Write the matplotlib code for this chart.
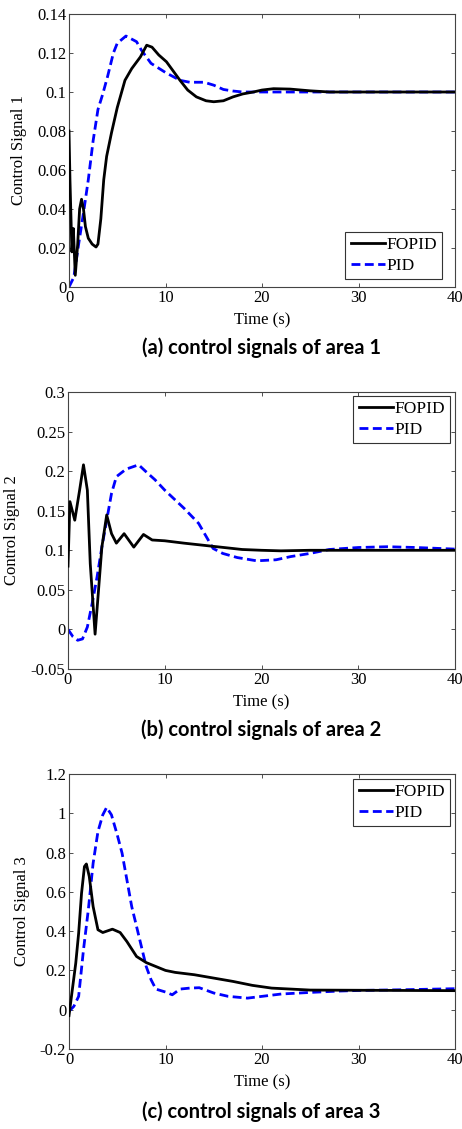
import matplotlib
matplotlib.use("Agg")
import matplotlib.pyplot as plt

# ---- area 1 ----
t1_fopid = [0, 0.1, 0.3, 0.45, 0.65, 0.9, 1.1, 1.3, 1.5, 1.7, 2.0, 2.4, 2.8, 3.0, 3.3, 3.6,
            3.9, 4.4, 5.0, 5.8, 6.5, 7.4, 8.05, 8.6, 9.3, 10.1, 11.5, 12.3, 13.2, 14.2, 15.0,
            16.0, 17.0, 18.0, 19.1, 20.0, 21.2, 22.9, 25.0, 27.0, 40.0]
u1_fopid = [0.080, 0.055, 0.018, 0.030, 0.006, 0.022, 0.040, 0.045, 0.040, 0.031, 0.025, 0.022,
            0.0205, 0.022, 0.035, 0.055, 0.067, 0.079, 0.092, 0.106, 0.112, 0.118, 0.124, 0.123,
            0.119, 0.1155, 0.106, 0.101, 0.0975, 0.0955, 0.095, 0.0955, 0.0975, 0.099, 0.100,
            0.101, 0.1017, 0.1015, 0.1006, 0.100, 0.100]
t1_pid = [0, 0.5, 1.0, 1.5, 2.0, 2.5, 3.0, 3.5, 4.0, 4.6, 5.0, 5.9, 7.0, 7.5, 8.5, 10.0, 11.5,
          12.5, 14.0, 15.0, 16.0, 17.0, 18.0, 40.0]
u1_pid = [0.0, 0.005, 0.022, 0.038, 0.055, 0.075, 0.091, 0.099, 0.108, 0.120, 0.125, 0.1287,
          0.1258, 0.1215, 0.1147, 0.110, 0.106, 0.105, 0.105, 0.1035, 0.1013, 0.1005, 0.100, 0.100]

# ---- area 2 ----
t2_fopid = [0, 0.2, 0.7, 1.2, 1.6, 2.0, 2.3, 2.8, 3.1, 3.5, 4.0, 4.5, 5.0, 5.8, 6.8, 7.8, 8.7,
            10.0, 12.0, 15.0, 18.0, 20.0, 22.0, 25.0, 40.0]
u2_fopid = [0.080, 0.1615, 0.138, 0.176, 0.208, 0.176, 0.083, -0.006, 0.041, 0.104, 0.1446,
            0.121, 0.109, 0.121, 0.104, 0.120, 0.113, 0.112, 0.109, 0.105, 0.101, 0.100, 0.0993,
            0.100, 0.100]
t2_pid = [0, 0.5, 1.0, 1.5, 2.0, 2.5, 3.0, 3.5, 4.0, 4.5, 5.0, 6.0, 7.3, 8.0, 9.0, 10.0, 12.0,
          13.5, 15.0, 16.0, 17.5, 19.5, 21.5, 23.0, 25.0, 27.0, 30.0, 33.0, 36.0, 40.0]
u2_pid = [0.0, -0.009, -0.0137, -0.012, 0.003, 0.033, 0.066, 0.104, 0.138, 0.172, 0.193, 0.2025,
          0.208, 0.200, 0.189, 0.176, 0.153, 0.134, 0.1023, 0.096, 0.0908, 0.0867, 0.088, 0.092,
          0.096, 0.101, 0.1035, 0.1045, 0.1035, 0.1015]

# ---- area 3 ----
t3_fopid = [0, 0.3, 0.7, 1.0, 1.3, 1.6, 1.8, 2.1, 2.5, 3.0, 3.5, 4.5, 5.3, 6.0, 7.0, 8.0, 9.0,
            10.0, 11.0, 13.0, 15.0, 17.0, 19.0, 21.0, 23.0, 25.0, 40.0]
u3_fopid = [-0.03, 0.085, 0.237, 0.39, 0.593, 0.729, 0.742, 0.678, 0.525, 0.407, 0.393, 0.41,
            0.393, 0.347, 0.271, 0.24, 0.22, 0.20, 0.19, 0.178, 0.161, 0.144, 0.124, 0.11, 0.105,
            0.10, 0.097]
t3_pid = [0, 0.5, 1.0, 1.5, 2.0, 2.5, 3.0, 3.5, 3.9, 4.4, 5.0, 5.5, 6.0, 6.5, 7.0, 7.5, 8.0, 8.5,
          9.0, 10.0, 10.7, 11.5, 12.5, 13.5, 15.0, 16.5, 18.5, 20.0, 22.0, 25.0, 28.0, 30.0, 35.0,
          40.0]
u3_pid = [-0.008, 0.017, 0.068, 0.305, 0.508, 0.746, 0.907, 0.992, 1.03, 0.992, 0.89, 0.797,
          0.661, 0.525, 0.424, 0.322, 0.22, 0.153, 0.105, 0.09, 0.076, 0.105, 0.11, 0.112, 0.085,
          0.068, 0.059, 0.068, 0.08, 0.088, 0.095, 0.098, 0.102, 0.107]

x_ticks = [0, 10, 20, 30, 40]
y_ticks_1 = [0, 0.02, 0.04, 0.06, 0.08, 0.1, 0.12, 0.14]
y_ticks_2 = [-0.05, 0, 0.05, 0.1, 0.15, 0.2, 0.25, 0.3]
y_ticks_3 = [-0.2, 0, 0.2, 0.4, 0.6, 0.8, 1, 1.2]

series_labels = ["FOPID", "PID"]
y_labels = ["Control Signal 1", "Control Signal 2", "Control Signal 3"]
captions = ["(a) control signals of area 1", "(b) control signals of area 2",
            "(c) control signals of area 3"]

W, H = 462, 1129
fig = plt.figure(figsize=(W / 100, H / 100), dpi=100)

serif = "Liberation Serif"
fs = 12


def px_axes(left, top, right, bottom):
    return fig.add_axes([left / W, 1 - bottom / H, (right - left) / W, (bottom - top) / H])


# box: left, top, right, bottom (px); leg: legend corner (px); ylab_x: right edge of y label
panels = [
    dict(box=(69, 14, 455, 287), fopid=(t1_fopid, u1_fopid), pid=(t1_pid, u1_pid),
         yticks=y_ticks_1, loc="lower right", leg=(442, 279), ylab_x=27, cap_y=348),
    dict(box=(68, 392, 455, 669), fopid=(t2_fopid, u2_fopid), pid=(t2_pid, u2_pid),
         yticks=y_ticks_2, loc="upper right", leg=(450, 396), ylab_x=20, cap_y=730),
    dict(box=(69, 774, 455, 1049), fopid=(t3_fopid, u3_fopid), pid=(t3_pid, u3_pid),
         yticks=y_ticks_3, loc="upper right", leg=(450, 779), ylab_x=30, cap_y=1112),
]

for i, p in enumerate(panels):
    l, t, r, b = p["box"]
    ax = px_axes(l, t, r, b)
    ax.plot(*p["fopid"], color="black", lw=2.0, label=series_labels[0], zorder=3)
    ax.plot(*p["pid"], color="#0000ff", lw=2.0, ls=(0, (3.2, 1.6)), label=series_labels[1],
            zorder=2)
    ax.set_xlim(0, 40)
    ax.set_ylim(p["yticks"][0], p["yticks"][-1])
    ax.set_xticks(x_ticks)
    ax.set_xticklabels([f"{v:g}" for v in x_ticks], fontfamily=serif, fontsize=fs)
    ax.set_yticks(p["yticks"])
    ax.set_yticklabels([f"{v:g}" for v in p["yticks"]], fontfamily=serif, fontsize=fs)
    ax.tick_params(direction="in", top=True, right=True, length=3, width=0.6,
                   color="#333333", pad=2)
    for s in ax.spines.values():
        s.set_color("#444444")
        s.set_linewidth(0.8)
    ax.set_xlabel("Time (s)", fontfamily=serif, fontsize=fs)
    ax.xaxis.set_label_coords(0.5, -25 / (b - t))
    ax.set_ylabel(y_labels[i], fontfamily=serif, fontsize=fs)
    ax.yaxis.set_label_coords((p["ylab_x"] - l) / (r - l), 0.5)
    lx, ly = p["leg"]
    leg = ax.legend(loc=p["loc"], bbox_to_anchor=((lx - l) / (r - l), (b - ly) / (b - t)),
                    borderaxespad=0, prop={"family": serif, "size": 12.5}, fancybox=False,
                    framealpha=1, edgecolor="#333333", handlelength=2.0, handletextpad=0.05,
                    borderpad=0.3, labelspacing=0.25)
    leg.get_frame().set_linewidth(0.8)
    fig.text(261 / W, 1 - p["cap_y"] / H, captions[i], ha="center", va="center",
             fontfamily="Lato", fontweight="bold", fontsize=14.5)

fig.savefig("out.png", dpi=100)
